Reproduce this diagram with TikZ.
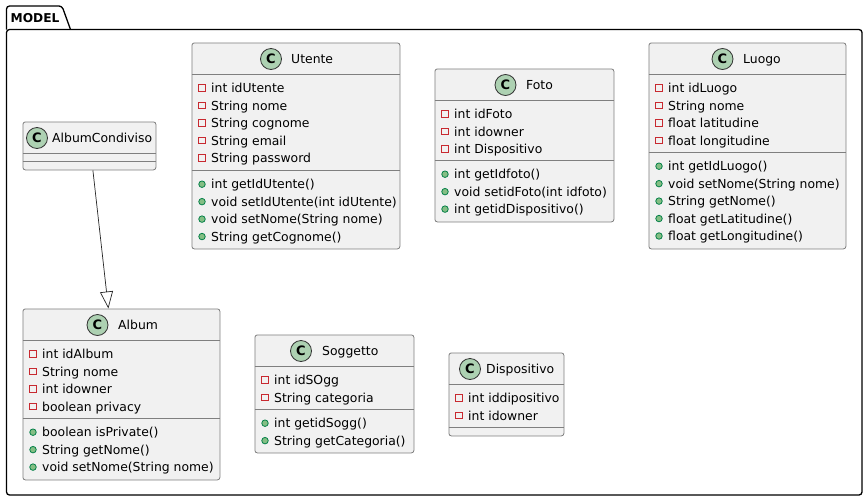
\documentclass[tikz,border=0pt]{standalone}
\usepackage{fontspec}
\setmainfont{DejaVu Sans}
\usetikzlibrary{arrows.meta}
\definecolor{boxfill}{HTML}{F1F1F1}
\definecolor{boxline}{HTML}{7F7F7F}
\definecolor{spotfill}{HTML}{ADD1B2}
\definecolor{privline}{HTML}{C82930}
\definecolor{publine}{HTML}{038048}
\definecolor{pubfill}{HTML}{84BE84}
\tikzset{
  classbox/.style={draw=boxline,fill=boxfill,rounded corners=2.5pt,line width=0.8pt,anchor=north west,inner sep=0pt},
  spot/.style={circle,draw=black!80,fill=spotfill,line width=0.8pt,minimum size=21pt,inner sep=0pt,font=\fontsize{13}{13}\selectfont\bfseries},
  titletext/.style={anchor=base west,inner sep=0pt,font=\fontsize{12.4}{14}\selectfont},
  rowtext/.style={anchor=base west,inner sep=0pt,font=\fontsize{12.4}{14}\selectfont},
  privmark/.style={draw=privline,line width=0.8pt,fill=none,minimum size=6.5pt,inner sep=0pt},
  pubmark/.style={circle,draw=publine,fill=pubfill,line width=0.8pt,minimum size=6.5pt,inner sep=0pt}
}
% name, left, top, right, bottom, first divider, second divider, spot x, title
\newcommand{\umlclass}[9]{
  \def\nm{#1}\def\xa{#2}\def\ya{#3}\def\xb{#4}\def\yb{#5}
  \def\divone{#6}\def\divtwo{#7}\def\spotx{#8}\def\ttl{#9}
  \umlclassrows
}
% title x, fields, methods
\newcommand{\umlclassrows}[3]{
  \pgfmathsetmacro{\boxw}{\xb-\xa}
  \pgfmathsetmacro{\boxh}{\yb-\ya}
  \node[classbox,minimum width=\boxw pt,minimum height=\boxh pt] (\nm) at (\xa,\ya) {};
  \draw[boxline,line width=0.8pt] (\xa,\divone) -- (\xb,\divone);
  \draw[boxline,line width=0.8pt] (\xa,\divtwo) -- (\xb,\divtwo);
  \node[spot] (\nm-spot) at (\spotx,\ya+16.5) {C};
  \node[titletext] (\nm-title) at (#1,\ya+21) {\ttl};
  \if\relax\detokenize{#2}\relax\else
  \foreach \t [count=\i from 0] in {#2} {
    \node[privmark] (\nm-fm\i) at (\xa+10.5,\divone+13.5+17.45*\i) {};
    \node[rowtext] (\nm-f\i) at (\xa+19.5,\divone+18.2+17.45*\i) {\t};
  }
  \fi
  \if\relax\detokenize{#3}\relax\else
  \foreach \t [count=\i from 0] in {#3} {
    \node[pubmark] (\nm-mm\i) at (\xa+10.5,\divtwo+13.7+17.45*\i) {};
    \node[rowtext] (\nm-m\i) at (\xa+19.5,\divtwo+18.4+17.45*\i) {\t};
  }
  \fi
}
\begin{document}
\begin{tikzpicture}[x=1pt,y=-1pt]
  \useasboundingbox (0,0) rectangle (868,501);

  % package
  \draw[line width=1.3pt,rounded corners=3pt,fill=white] (6.5,29.5) -- (6.5,495) -- (862,495) -- (862,29.5) -- cycle;
  \draw[line width=1.3pt,rounded corners=3pt] (6.5,29.5) -- (6.5,6) -- (62,6) -- (70.5,29.5);
  \node[inner sep=0pt,anchor=west,font=\fontsize{12.2}{14}\selectfont\bfseries] (pkg) at (10.5,18.5) {MODEL};

  \umlclass{condiviso}{22.5}{121.5}{155.5}{169.5}{153.5}{161.5}{37}{AlbumCondiviso}{52}{}{}

  \umlclass{utente}{191.5}{42.5}{399.5}{248.5}{74.5}{170.5}{271}{Utente}{291}
    {int idUtente,String nome,String cognome,String email,String password}
    {int getIdUtente(),void setIdUtente(int idUtente),void setNome(String nome),String getCognome()}

  \umlclass{foto}{434.5}{68.5}{613.5}{221.5}{100.5}{160.5}{505.5}{Foto}{526}
    {int idFoto,int idowner,int Dispositivo}
    {int getIdfoto(),void setidFoto(int idfoto),int getidDispositivo()}

  \umlclass{luogo}{648.5}{42.5}{845.5}{248.5}{74.5}{152.5}{722.5}{Luogo}{743}
    {int idLuogo,String nome,float latitudine,float longitudine}
    {int getIdLuogo(),void setNome(String nome),String getNome(),float getLatitudine(),float getLongitudine()}

  \umlclass{album}{22.5}{308.5}{219.5}{479.5}{340.5}{418.5}{97.5}{Album}{118}
    {int idAlbum,String nome,int idowner,boolean privacy}
    {boolean isPrivate(),String getNome(),void setNome(String nome)}

  \umlclass{soggetto}{254.5}{334.5}{413.5}{452.5}{366.5}{409.5}{301}{Soggetto}{322}
    {int idSOgg,String categoria}
    {int getidSogg(),String getCategoria()}

  \umlclass{dispositivo}{448.5}{352.5}{563.5}{435.5}{384.5}{427.5}{470}{Dispositivo}{486}
    {int iddipositivo,int idowner}
    {}

  % generalization
  \draw[-{Triangle[open,length=17pt,width=13pt]},line width=0.7pt,black!85] ([xshift=3.5pt]condiviso.south) -- ([xshift=-13pt]album.north);
\end{tikzpicture}
\end{document}
